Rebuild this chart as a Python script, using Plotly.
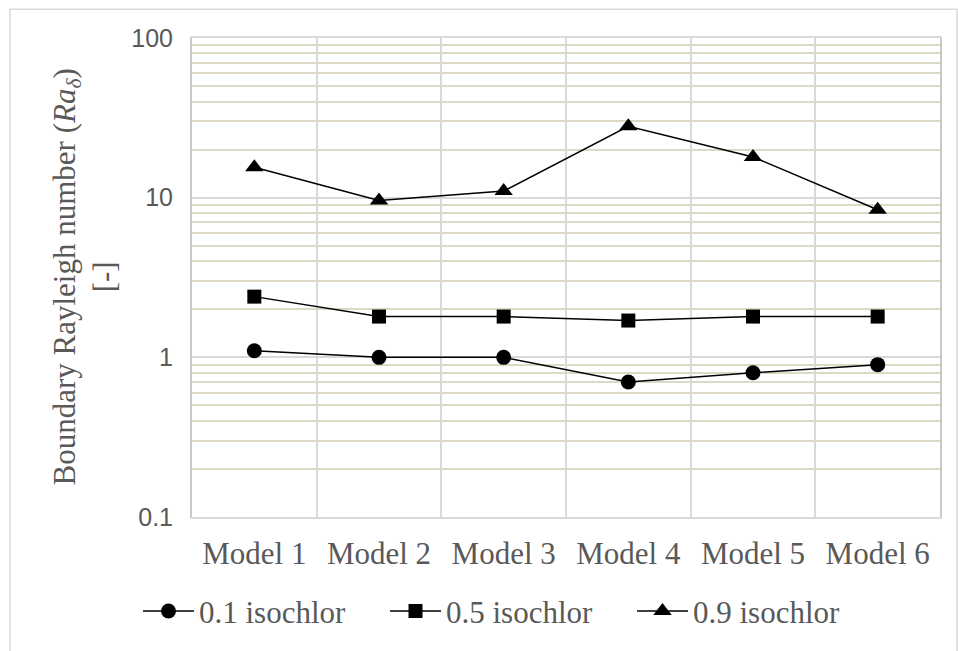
import plotly.graph_objects as go

# Boundary Rayleigh number per model for three isochlor levels
models = ["Model 1", "Model 2", "Model 3", "Model 4", "Model 5", "Model 6"]
iso_01 = [1.1, 1.0, 1.0, 0.7, 0.8, 0.9]
iso_05 = [2.4, 1.8, 1.8, 1.7, 1.8, 1.8]
iso_09 = [15.5, 9.6, 11.0, 28.0, 18.0, 8.4]

series_names = ["0.1 isochlor", "0.5 isochlor", "0.9 isochlor"]
series_values = [iso_01, iso_05, iso_09]
symbols = ["circle", "square", "triangle-up"]
marker_sizes = [15, 14, 16]

y_tickvals = [0.1, 1, 10, 100]
y_ticktext = ["0.1", "1", "10", "100"]

SERIF = "Liberation Serif, Times New Roman, serif"
SANS = "Liberation Sans, Arial, sans-serif"
TEXT_GREY = "#595959"
MAJOR_GRID = "#d9d9d9"
MINOR_GRID = "#ddd9c3"

fig = go.Figure()
for name, vals, sym, ms in zip(series_names, series_values, symbols, marker_sizes):
    fig.add_trace(go.Scatter(
        x=models, y=vals, name=name, mode="lines+markers",
        line=dict(color="black", width=1.5),
        marker=dict(symbol=sym, size=ms, color="black"),
    ))

L, R, T, B = 192, 18, 38, 131
W, H = 958, 651
pw, ph = W - L - R, H - T - B

fig.update_layout(
    width=W, height=H,
    margin=dict(l=L, r=R, t=T, b=B),
    paper_bgcolor="white", plot_bgcolor="white",
    showlegend=True,
    legend=dict(
        orientation="h", x=(138 - L) / pw, xanchor="left",
        y=(H - B - 615) / ph, yanchor="middle",
        font=dict(family=SERIF, size=31, color=TEXT_GREY),
        itemwidth=51, entrywidth=181, entrywidthmode="pixels",
        bgcolor="rgba(0,0,0,0)",
    ),
    xaxis=dict(
        type="category", tickson="boundaries", ticks="",
        range=[-0.5, 5.5],
        showgrid=True, gridcolor=MAJOR_GRID, gridwidth=2,
        showline=True, linecolor=MAJOR_GRID, linewidth=2, mirror=True,
        tickfont=dict(family=SERIF, size=31, color=TEXT_GREY),
        ticklabelstandoff=8,
        zeroline=False,
    ),
    yaxis=dict(
        type="log", range=[-1, 2],
        tickvals=y_tickvals, ticktext=y_ticktext, ticks="",
        showgrid=True, gridcolor=MAJOR_GRID, gridwidth=2,
        minor=dict(showgrid=True, gridcolor=MINOR_GRID, gridwidth=1.5,
                   dtick="D1", ticks=""),
        showline=True, linecolor="#c8c8c8", linewidth=2, mirror=True,
        tickfont=dict(family=SANS, size=25, color=TEXT_GREY),
        ticklabelstandoff=12,
        zeroline=False,
    ),
    annotations=[dict(
        text="Boundary Rayleigh number (<i>Ra</i><sub><i>δ</i></sub>)<br>[-]",
        xref="paper", yref="paper",
        x=(84 - L) / pw, y=0.5, xanchor="center", yanchor="middle",
        textangle=-90, showarrow=False, align="center",
        font=dict(family=SERIF, size=31, color=TEXT_GREY),
    )],
    shapes=[dict(
        type="rect", xref="paper", yref="paper",
        x0=(10 - L) / pw, x1=(957 - L) / pw,
        y0=(H - B - 700) / ph, y1=(H - B - 9) / ph,
        line=dict(color="#d9d9d9", width=1.5), layer="below",
    )],
)

fig.write_html("out.html")
